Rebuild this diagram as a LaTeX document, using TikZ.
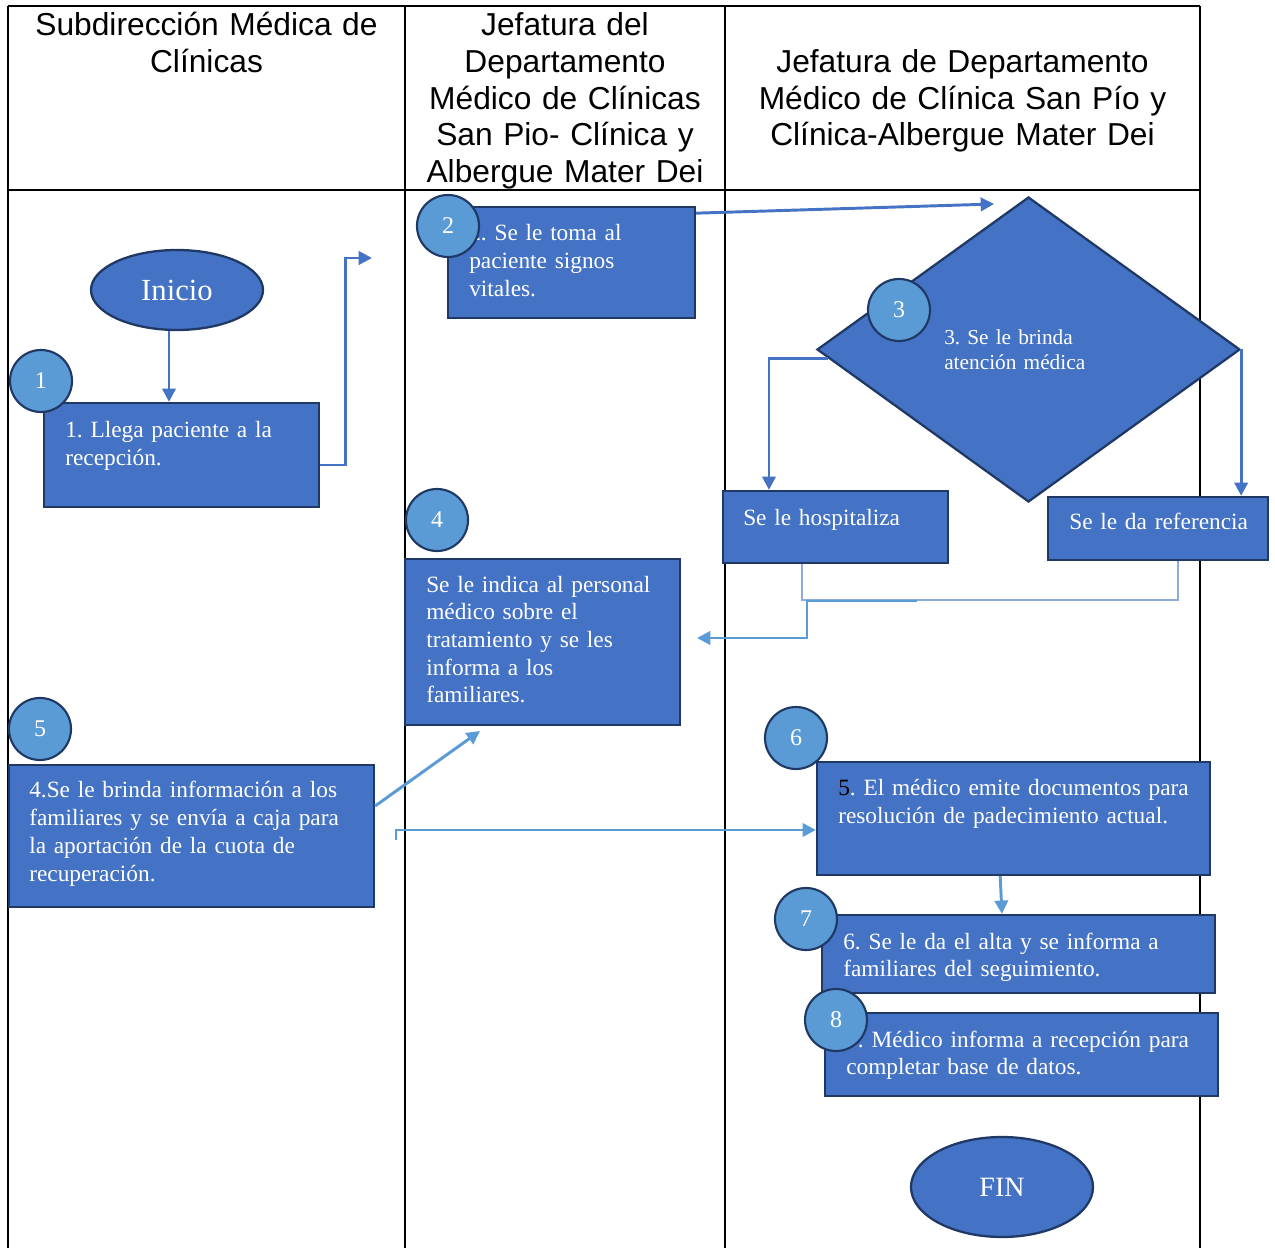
\documentclass[tikz,border=0pt]{standalone}
\usepackage{fontspec}
\setmainfont{Liberation Serif}
\newfontfamily\hdrfont{Liberation Sans}
\usetikzlibrary{shapes.geometric,arrows.meta,calc}
\definecolor{boxblue}{HTML}{4472C4}
\definecolor{edgeblue}{HTML}{1F3864}
\definecolor{circblue}{HTML}{5B9BD5}
\definecolor{lineblue}{HTML}{4472C4}
\definecolor{lightline}{HTML}{5B9BD5}
\definecolor{paleline}{HTML}{8FAADC}
\tikzset{
  proc/.style={rectangle, draw=edgeblue, line width=1.7pt, fill=boxblue, inner sep=0pt},
  numc/.style={circle, draw=edgeblue, line width=1.6pt, fill=circblue, minimum size=46.5pt, inner sep=0pt, text=white, font=\fontsize{18}{21}\selectfont},
  term/.style={ellipse, draw=edgeblue, line width=1.7pt, fill=boxblue, inner sep=0pt, text=white},
  txt/.style={anchor=base west, inner sep=0pt, text=white, align=left, text width=300pt, font=\fontsize{17.5}{21}\selectfont},
  hdr/.style={anchor=base, inner sep=0pt, align=center, font=\hdrfont\fontsize{23.8}{27.4}\selectfont},
  conn/.style={draw=lineblue, line width=2.2pt, -{Triangle[length=10pt,width=10pt]}},
  connL/.style={conn, draw=lightline},
  tbl/.style={line width=1.5pt, black},
}
\begin{document}
\frenchspacing
\begin{tikzpicture}[x=0.75pt,y=-0.75pt]
\useasboundingbox (0,0) rectangle (1275,1248);
% table
\draw[tbl] (8,6) -- (1200,6);
\draw[tbl, line width=2.2pt] (8,190) -- (1200,190);
\draw[tbl] (8,6) -- (8,1248);
\draw[tbl] (405,6) -- (405,1248);
\draw[tbl] (725,6) -- (725,1248);
\draw[tbl] (1200,6) -- (1200,1248);
% headers
\node[hdr, text width=290pt] (h1) at (206.5,36) {Subdirección Médica de\\Clínicas};
\node[hdr, text width=235pt] (h2) at (565,36) {Jefatura del\\Departamento\\Médico de Clínicas\\San Pio- Clínica y\\Albergue Mater Dei};
\node[hdr, text width=350pt] (h3) at (962.5,72.5) {Jefatura de Departamento\\Médico de Clínica San Pío y\\Clínica-Albergue Mater Dei};
% shapes
\node[term, minimum width=129pt, minimum height=60pt, font=\fontsize{23}{26}\selectfont] (inicio) at (177,290) {Inicio};
\node[proc, minimum width=206.25pt, minimum height=78pt] (b1) at (181.5,455) {};
\node[proc, minimum width=185.25pt, minimum height=83.25pt] (b2) at (571.5,262.5) {};
\node[diamond, draw=edgeblue, fill=boxblue, line width=1.7pt, inner sep=0pt, aspect=1.387, minimum width=317.25pt, minimum height=228.75pt] (dia) at (1028.5,349.5) {};
\node[proc, minimum width=168.75pt, minimum height=54pt] (hosp) at (835.5,527) {};
\node[proc, minimum width=165pt, minimum height=47.25pt] (ref) at (1158,528.5) {};
\node[proc, minimum width=206.25pt, minimum height=124.5pt] (b4) at (542.5,642) {};
\node[proc, minimum width=273.75pt, minimum height=106.5pt] (b5) at (191.5,836) {};
\node[proc, minimum width=294.75pt, minimum height=84.75pt] (b6) at (1013.5,818.5) {};
\node[proc, minimum width=294.75pt, minimum height=58.5pt] (b7) at (1018.5,954) {};
\node[proc, minimum width=294.75pt, minimum height=62.25pt] (b8) at (1021.5,1054.5) {};
\node[term, minimum width=136.5pt, minimum height=75pt, font=\fontsize{21}{24}\selectfont] (fin) at (1002,1187) {FIN};
% texts
\node[txt] (t1) at (65,437) {1. Llega paciente a la\\recepción.};
\node[txt] (t2) at (469,241) {2. Se le toma al\\paciente signos\\vitales.};
\node[txt, font=\fontsize{16}{18.75}\selectfont] (t3) at (944,345) {3. Se le brinda\\atención médica};
\node[txt] (th) at (743,525) {Se le hospitaliza};
\node[txt] (tr) at (1069,529) {Se le da referencia};
\node[txt, font=\fontsize{17.5}{20.8}\selectfont] (t4) at (426,592) {Se le indica al personal\\médico sobre el\\tratamiento y se les\\informa a los\\familiares.};
\node[txt] (t5) at (29,797) {4.Se le brinda información a los\\familiares y se envía a caja para\\la aportación de la cuota de\\recuperación.};
\node[txt] (t6) at (838,795) {{\color{black}5}. El médico emite documentos para\\resolución de padecimiento actual.};
\node[txt, font=\fontsize{17.5}{20.25}\selectfont] (t7) at (843,949) {6. Se le da el alta y se informa a\\familiares del seguimiento.};
\node[txt, font=\fontsize{17.5}{20.25}\selectfont] (t8) at (846,1047) {7. Médico informa a recepción para\\completar base de datos.};
% free ends
\coordinate (e1) at (372,258);
\coordinate (e2) at (994,204);
\coordinate (j1) at (917,601);
\coordinate (e4) at (697,638);
\coordinate (e5) at (480,731);
\coordinate (s6) at (396,840);
% connectors
\draw[conn] ([xshift=-6pt]inicio.south) -- ([xshift=-6pt]inicio.south |- b1.north);
\draw[conn] ([yshift=-7.5pt]b1.east) -- ++(25,0) |- (e1);
\draw[conn] ([yshift=37pt]b2.east) -- (e2);
\draw[conn] ($(dia.west)!0.059!(dia.south)$) -| ([xshift=-49.9pt]hosp.north);
\draw[conn] (dia.east) -- (dia.east |- ref.north);
\draw[draw=paleline, line width=1.1pt] ([xshift=-25.1pt]hosp.south) -- ++(0,36) -| ([xshift=15pt]ref.south);
\draw[connL] (j1) -- (807,601) -- (807,638) -- (e4);
\draw[connL] ([yshift=22.5pt]b5.east) -- (e5);
\draw[connL] (s6) |- ([yshift=-8.6pt]b6.west);
\draw[connL] ([xshift=-10pt]b6.south) -- ([xshift=-12.4pt]b7.north);
% number circles
\node[numc] (c1) at (41,381) {1};
\node[numc] (c2) at (448,226) {2};
\node[numc] (c3) at (899,310) {3};
\node[numc] (c4) at (437,520) {4};
\node[numc] (c5) at (40,729) {5};
\node[numc] (c6) at (796,738) {6};
\node[numc] (c7) at (806,919) {7};
\node[numc] (c8) at (836,1020) {8};
\end{tikzpicture}
\end{document}
